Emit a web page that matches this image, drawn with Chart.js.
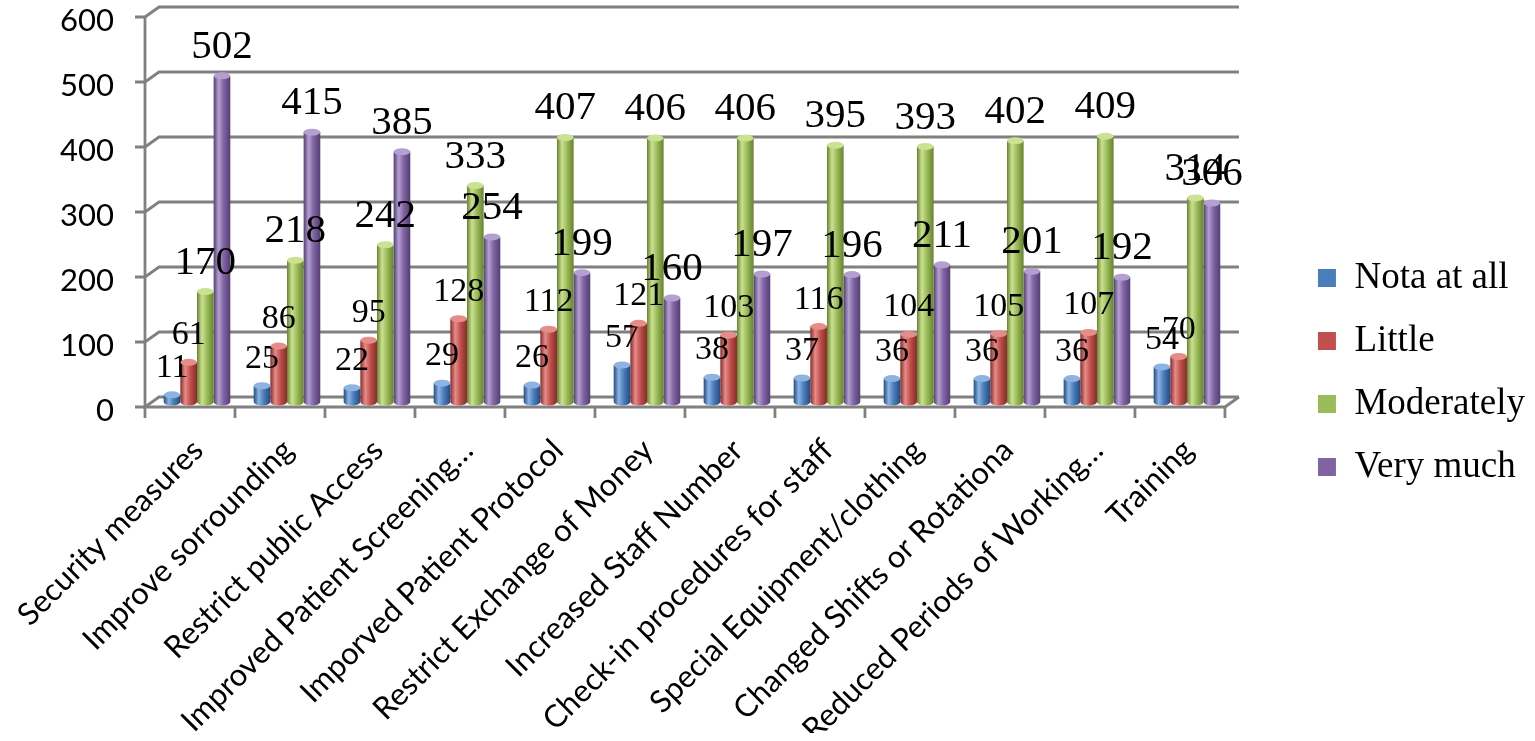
<!DOCTYPE html>
<html>
<head>
<meta charset="utf-8">
<title>Measures chart</title>
<script src="https://cdn.jsdelivr.net/npm/chart.js@4.4.1/dist/chart.umd.min.js"></script>
<style>
  html, body { margin: 0; padding: 0; background: #fff; }
  #wrap { width: 1535px; height: 741px; }
</style>
</head>
<body>
<div id="wrap"><canvas id="myChart" width="1535" height="741"></canvas></div>
<script>
// ---- data ----
var categories = [
  "Security measures", "Improve sorrounding", "Restrict public Access",
  "Improved Patient Screening\u2026", "Imporved Patient Protocol",
  "Restrict Exchange of Money", "Increased Staff Number",
  "Check-in procedures for staff", "Special Equipment/clothing",
  "Changed Shifts or Rotationa", "Reduced Periods of Working\u2026", "Training"
];
var seriesNames = ["Nota at all", "Little", "Moderately", "Very much"];
var notAtAll   = [11, 25, 22, 29, 26, 57, 38, 37, 36, 36, 36, 54];
var little     = [61, 86, 95, 128, 112, 121, 103, 116, 104, 105, 107, 70];
var moderately = [170, 218, 242, 333, 407, 406, 406, 395, 393, 402, 409, 314];
var veryMuch   = [502, 415, 385, 254, 199, 160, 197, 196, 211, 201, 192, 306];
var yTicks = [0, 100, 200, 300, 400, 500, 600];

// ---- styles ----
var shades = [
  { dark: "#234b82", mid: "#4a7ebb", light: "#8db3e2" },
  { dark: "#862b28", mid: "#c0504d", light: "#e68c89" },
  { dark: "#66822f", mid: "#9bbb59", light: "#cbe292" },
  { dark: "#533e75", mid: "#8064a2", light: "#b49fd1" }
];
var catPct = 0.74;
var DX = 7, DY = 5;   // fake 3d depth
var frameColor = "#808080";
var sans = "Lato, 'Open Sans', sans-serif";
var serif = "'Liberation Serif', 'Times New Roman', serif";

function cylinder(c) {
  var s = shades[c.datasetIndex];
  var xs = c.chart.scales.x;
  if (!xs || !(xs.width > 0) || c.dataIndex === undefined) return s.mid;
  var cat = xs.width / categories.length;
  var group = cat * catPct;
  var bw = group / 4;
  var left = xs.getPixelForValue(c.dataIndex) - group / 2 + c.datasetIndex * bw;
  if (!isFinite(left)) return s.mid;
  var g = c.chart.ctx.createLinearGradient(left, 0, left + bw, 0);
  g.addColorStop(0, s.dark);
  g.addColorStop(0.3, s.light);
  g.addColorStop(0.6, s.mid);
  g.addColorStop(1, s.dark);
  return g;
}

// back wall, floor and front axis lines
var frame = {
  id: "frame",
  beforeDatasetsDraw: function (chart) {
    var ctx = chart.ctx, a = chart.chartArea, ys = chart.scales.y;
    ctx.save();
    ctx.strokeStyle = frameColor;
    ctx.lineWidth = 2.8;
    yTicks.forEach(function (v) {
      var y = ys.getPixelForValue(v);
      ctx.beginPath();
      ctx.moveTo(a.left - DX - 10, y + DY);
      ctx.lineTo(a.left - DX, y + DY);
      ctx.lineTo(a.left + DX, y - DY);
      ctx.lineTo(a.right + DX, y - DY);
      ctx.stroke();
    });
    var y0 = ys.getPixelForValue(0), yTop = ys.getPixelForValue(600);
    ctx.beginPath();
    ctx.moveTo(a.left - DX, yTop + DY);
    ctx.lineTo(a.left - DX, y0 + DY);
    ctx.lineTo(a.right - DX, y0 + DY);
    ctx.lineTo(a.right + DX, y0 - DY);
    ctx.stroke();
    var cw = (a.right - a.left) / categories.length;
    for (var i = 0; i <= categories.length; i++) {
      var x = a.left - DX + i * cw;
      ctx.beginPath();
      ctx.moveTo(x, y0 + DY);
      ctx.lineTo(x, y0 + DY + 11);
      ctx.stroke();
    }
    ctx.restore();
  },
  afterDatasetsDraw: function (chart) {
    var ctx = chart.ctx;
    ctx.save();
    chart.data.datasets.forEach(function (ds, di) {
      var meta = chart.getDatasetMeta(di);
      var s = shades[di];
      meta.data.forEach(function (el, i) {
        var rx = el.width / 2;
        // rounded bottom
        ctx.fillStyle = el.options.backgroundColor;
        ctx.beginPath();
        ctx.ellipse(el.x, el.base, rx, 3.5, 0, 0, Math.PI);
        ctx.fill();
        // top cap
        ctx.fillStyle = s.light;
        ctx.beginPath();
        ctx.ellipse(el.x, el.y, rx, 3.5, 0, 0, Math.PI * 2);
        ctx.fill();
        // value label
        ctx.fillStyle = "#000";
        ctx.font = ds.labelSize + "px " + serif;
        ctx.textAlign = "center";
        ctx.textBaseline = "alphabetic";
        ctx.fillText(String(ds.data[i]), el.x, el.y - 18);
      });
    });
    ctx.restore();
  }
};

var seriesData = [notAtAll, little, moderately, veryMuch];
var labelSizes = [34, 34, 41, 41];

var chart = new Chart(document.getElementById("myChart"), {
  type: "bar",
  data: {
    labels: categories,
    datasets: seriesNames.map(function (name, k) {
      return {
        label: name,
        data: seriesData[k],
        backgroundColor: cylinder,
        borderWidth: 0,
        barPercentage: 1,
        categoryPercentage: catPct,
        labelSize: labelSizes[k]
      };
    })
  },
  options: {
    responsive: false,
    animation: false,
    layout: { padding: { top: 12, left: 0, right: 0, bottom: 8 } },
    plugins: {
      tooltip: { enabled: false },
      legend: {
        position: "right",
        labels: {
          boxWidth: 18,
          boxHeight: 18,
          padding: 26,
          color: "#000",
          font: { family: serif, size: 37 },
          generateLabels: function (ch) {
            return Chart.defaults.plugins.legend.labels.generateLabels(ch).map(function (it, k) {
              it.fillStyle = shades[k].mid;
              it.strokeStyle = shades[k].mid;
              it.lineWidth = 0;
              return it;
            });
          }
        }
      }
    },
    scales: {
      x: {
        grid: { display: false },
        border: { display: false },
        ticks: {
          autoSkip: false,
          minRotation: 45,
          maxRotation: 45,
          padding: 22,
          labelOffset: 1,
          color: "#000",
          font: { family: sans, size: 31 }
        },
        afterFit: function (s) { s.height = 331; s.paddingLeft = 0; s.paddingRight = 0; }
      },
      y: {
        min: 0,
        max: 600,
        afterBuildTicks: function (s) { s.ticks = yTicks.map(function (v) { return { value: v }; }); },
        grid: { display: false },
        border: { display: false },
        ticks: { padding: 30, labelOffset: 9, color: "#000", font: { family: sans, size: 31 } },
        afterFit: function (s) { s.width = 152; s.paddingTop = 0; s.paddingBottom = 0; }
      },
      pad: {
        type: "linear",
        position: "right",
        display: true,
        grid: { display: false },
        border: { display: false },
        ticks: { display: false },
        afterFit: function (s) { s.width = 60; }
      }
    }
  },
  plugins: [frame]
});
</script>
</body>
</html>
